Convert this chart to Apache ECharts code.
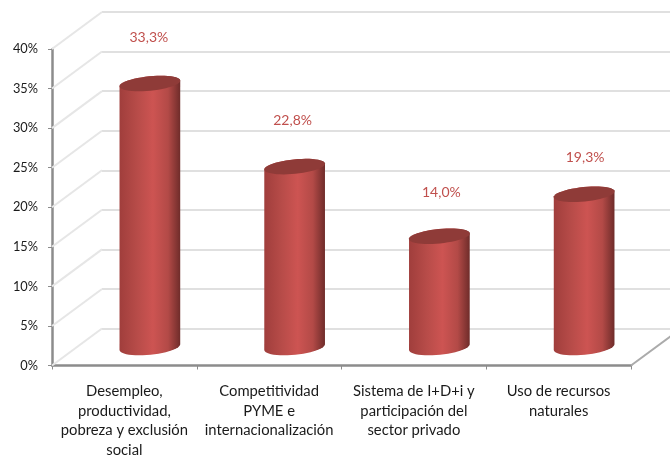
<!DOCTYPE html>
<html><head><meta charset="utf-8">
<style>html,body{margin:0;padding:0;background:#fff}#c{width:670px;height:455px}</style>
<script src="https://cdn.jsdelivr.net/npm/echarts@6/dist/echarts.min.js"></script>
</head><body><div id="c"></div>
<script>
const categories = ['Desempleo,\nproductividad,\npobreza y exclusión\nsocial','Competitividad\nPYME e\ninternacionalización','Sistema de I+D+i y\nparticipación del\nsector privado','Uso de recursos\nnaturales'];
const values = [33.3, 22.8, 14.0, 19.3];
const yTicks = [0,5,10,15,20,25,30,35,40];

// layout of the pseudo-3D projection (not data)
const DEPTH_X = 50, DEPTH_Y = -37;
const labelLift = [46, 46, 44, 37];
const labelNudge = [0, -1, 3, 2];
const FONT = 'Lato, "Open Sans", sans-serif';

const chart = echarts.init(document.getElementById('c'), null, {renderer:'canvas'});

function ell(cx, cy, rx, ry, th, t){
  const c=Math.cos(t), s=Math.sin(t);
  return [cx+rx*c*Math.cos(th)+ry*s*Math.sin(th), cy-rx*c*Math.sin(th)+ry*s*Math.cos(th)];
}
function cyl(params, api){
  const i = api.value(0), v = api.value(1);
  const top = api.coord([i, v]), base = api.coord([i, 0]);
  const cx = top[0]+DEPTH_X/2+0.5, ty = top[1]+DEPTH_Y/2, by = base[1]+DEPTH_Y/2;
  const rx = 30.5, ry = 7.2, th = 0.1, pts = [];
  for(let k=0;k<=24;k++) pts.push(ell(cx,by,rx,ry+0.6,th,Math.PI*k/24));
  for(let k=0;k<=24;k++) pts.push(ell(cx,ty,rx,ry,th,Math.PI+Math.PI*k/24));
  const topPts = [];
  for(let k=0;k<48;k++) topPts.push(ell(cx,ty,rx,ry,th,2*Math.PI*k/48));
  const grad = new echarts.graphic.LinearGradient(0,0,1,0,[
    {offset:0,color:'#a03e3c'},{offset:0.3,color:'#b84c49'},{offset:0.55,color:'#cd5452'},
    {offset:0.8,color:'#b34a47'},{offset:1,color:'#6f2c2a'}]);
  return {type:'group',children:[
    {type:'polygon',shape:{points:pts},style:{fill:grad}},
    {type:'polygon',shape:{points:topPts},style:{fill:'#8f3b38'}},
    {type:'text',style:{text:v.toFixed(1).replace('.',',')+'%',x:cx-1+labelNudge[i],y:ty-labelLift[i],
      align:'center',verticalAlign:'middle',fill:'#c0504d',font:'14px '+FONT}}
  ]};
}
function wall(params, api){
  const t = api.value(0), p = api.coord([0, t]);
  const sys = params.coordSys, x0 = sys.x;
  return {type:'line',shape:{x1:x0,y1:p[1],x2:x0+DEPTH_X,y2:p[1]+DEPTH_Y},
    style:{stroke:'#e6e6e6',lineWidth:2}};
}
function floorEdge(params, api){
  const sys = params.coordSys, x0 = sys.x+sys.width, y0 = sys.y+sys.height;
  return {type:'line',shape:{x1:x0,y1:y0,x2:x0+DEPTH_X,y2:y0+DEPTH_Y},style:{stroke:'#ababab',lineWidth:2}};
}

chart.setOption({
  animation:false,
  backgroundColor:'#fff',
  grid:[
    {left:52,top:49,width:579,height:316.5,outerBoundsMode:'none'},
    {left:102,top:12,width:579,height:316.5,outerBoundsMode:'none'}
  ],
  xAxis:[
    {type:'category',gridIndex:0,data:categories,
      axisLine:{lineStyle:{color:'#8c8c8c',width:2.5}},
      axisTick:{show:true,length:4,lineStyle:{color:'#8c8c8c',width:1}},
      axisLabel:{interval:0,margin:16,color:'#1a1a1a',fontFamily:FONT,fontSize:14.8,lineHeight:19.5,align:'center',verticalAlign:'top'},
      splitLine:{show:false}},
    {type:'category',gridIndex:1,data:categories,show:false}
  ],
  yAxis:[
    {type:'value',gridIndex:0,min:0,max:40,interval:5,
      axisLine:{show:true,lineStyle:{color:'#8c8c8c',width:2.5}},
      axisTick:{show:true,length:4,lineStyle:{color:'#8c8c8c',width:1}},
      axisLabel:{formatter:'{value}%',margin:14,color:'#1a1a1a',fontFamily:FONT,fontSize:12.8,padding:[2,0,0,0]},
      splitLine:{show:false}},
    {type:'value',gridIndex:1,min:0,max:40,interval:5,
      axisLine:{show:false},axisTick:{show:false},axisLabel:{show:false},
      splitLine:{show:true,lineStyle:{color:'#e0e0e0',width:2}}}
  ],
  series:[
    {type:'custom',name:'pared',xAxisIndex:0,yAxisIndex:0,z:1,silent:true,clip:false,renderItem:wall,
      data:yTicks.map(t=>[t]),encode:{y:0}},
    {type:'custom',name:'suelo',xAxisIndex:0,yAxisIndex:0,z:1,silent:true,clip:false,renderItem:floorEdge,
      data:[[0]],encode:{y:0}},
    {type:'custom',name:'valores',xAxisIndex:0,yAxisIndex:0,z:5,clip:false,renderItem:cyl,
      data:values.map((v,i)=>[i,v]),encode:{x:0,y:1}}
  ]
});
</script></body></html>
